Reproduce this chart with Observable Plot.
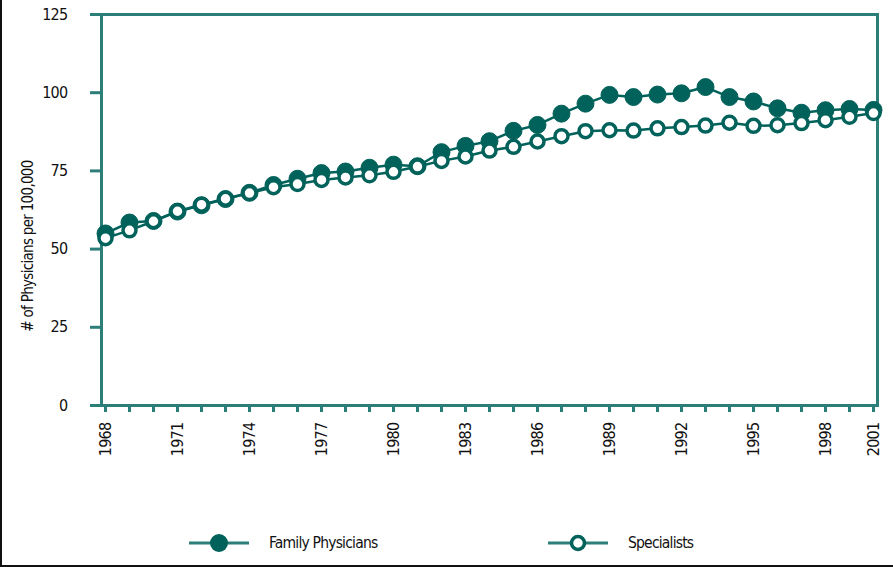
<!DOCTYPE html>
<html><head><meta charset="utf-8">
<script src="https://cdn.jsdelivr.net/npm/d3@7"></script>
<script src="https://cdn.jsdelivr.net/npm/@observablehq/plot@0.6"></script>
<style>
body{margin:0;background:#fff;}
#wrap{position:relative;width:893px;height:567px;box-sizing:border-box;border-left:2px solid #111;border-bottom:2px solid #111;overflow:hidden;background:#fff;
 font-family:"Liberation Sans Narrow","DejaVu Sans Condensed","Roboto Condensed",sans-serif;font-stretch:condensed;color:#111;}
#chart{position:absolute;left:-2px;top:0;}
#chart svg text{letter-spacing:-0.7px;}
.leg{position:absolute;top:532px;display:flex;align-items:center;font-size:15.5px;letter-spacing:-0.8px;}
.leg svg{margin-right:20px;}
</style></head>
<body><div id="wrap"><div id="chart"></div>
<div class="leg" style="left:185px"><svg width="62" height="22" id="lg1"></svg><span id="t1"></span></div>
<div class="leg" style="left:544px"><svg width="62" height="22" id="lg2"></svg><span id="t2"></span></div>
</div>
<script>
const years = ["1968","1969","1970","1971","1972","1973","1974","1975","1976","1977","1978","1979","1980","1981","1982","1983","1984","1985","1986","1987","1988","1989","1990","1991","1992","1993","1994","1995","1996","1997","1998","1999","2001"];
const familyPhysicians = [55,58.5,59,62,64,66,68,70.5,72.5,74.3,74.8,76,77,76.5,81,83,84.5,87.8,89.7,93.3,96.5,99.3,98.6,99.4,99.8,101.8,98.6,97.2,95,93.6,94.4,94.8,94.5];
const specialists = [53.5,56,58.9,62.1,64.2,66.1,67.9,69.8,70.8,72.1,72.9,73.6,74.7,76.4,78.2,79.6,81.5,82.7,84.4,86.1,87.7,88,87.9,88.6,89,89.5,90.4,89.4,89.6,90.3,91.2,92.3,93.5];
const yTicks = [0,25,50,75,100,125];
const xLabels = ["1968","1971","1974","1977","1980","1983","1986","1989","1992","1995","1998","2001"];
const seriesNames = ["Family Physicians","Specialists"];
const yTitle = "# of Physicians per 100,000";

const DARK = "#00625a";
const AXIS = "#2c7f78";
const FONT = '"Liberation Sans Narrow","DejaVu Sans Condensed","Roboto Condensed",sans-serif';

const fp = years.map((y,i)=>({year:y, value:familyPhysicians[i]}));
const sp = years.map((y,i)=>({year:y, value:specialists[i]}));

const chart = Plot.plot({
  width: 893, height: 470,
  marginLeft: 101, marginRight: 16, marginTop: 14, marginBottom: 65,
  style: {fontFamily: FONT, fontSize: "16px", color: "#111", background: "#fff", fontStretch: "condensed"},
  x: {type: "point", domain: years, padding: 0},
  y: {domain: [0,125]},
  marks: [
    Plot.frame({stroke: AXIS, strokeWidth: 3}),
    Plot.axisY({ticks: yTicks, tickSize: 11, tickPadding: 23, stroke: AXIS, strokeWidth: 3, fill: "#111", fontSize: 16, label: null}),
    Plot.axisX({ticks: years, tickSize: 7, tickPadding: 10, tickRotate: -90, tickFormat: d => xLabels.includes(d) ? d : "", stroke: AXIS, strokeWidth: 3, fill: "#111", fontSize: 16, label: null}),
    Plot.text([yTitle], {frameAnchor: "left", textAnchor: "middle", rotate: -90, dx: -73, dy: 36, fontSize: 15, fill: "#111"}),
    Plot.line(fp, {x: "year", y: "value", stroke: DARK, strokeWidth: 2.5}),
    Plot.dot(fp, {x: "year", y: "value", r: 8.5, fill: DARK, stroke: DARK, strokeWidth: 1}),
    Plot.line(sp, {x: "year", y: "value", stroke: DARK, strokeWidth: 2.5}),
    Plot.dot(sp, {x: "year", y: "value", r: 6.5, fill: "#fff", stroke: DARK, strokeWidth: 3.5})
  ]
});
document.getElementById("chart").appendChild(chart);

document.getElementById("t1").textContent = seriesNames[0];
document.getElementById("t2").textContent = seriesNames[1];
function legendIcon(id, filled){
  const s = d3.select("#"+id);
  s.append("line").attr("x1",2).attr("x2",62).attr("y1",11).attr("y2",11).attr("stroke",AXIS).attr("stroke-width",3);
  if (filled) s.append("circle").attr("cx",32).attr("cy",11).attr("r",9).attr("fill",DARK);
  else s.append("circle").attr("cx",32).attr("cy",11).attr("r",6.5).attr("fill","#fff").attr("stroke",DARK).attr("stroke-width",3.5);
}
legendIcon("lg1", true);
legendIcon("lg2", false);
</script>
</body></html>
